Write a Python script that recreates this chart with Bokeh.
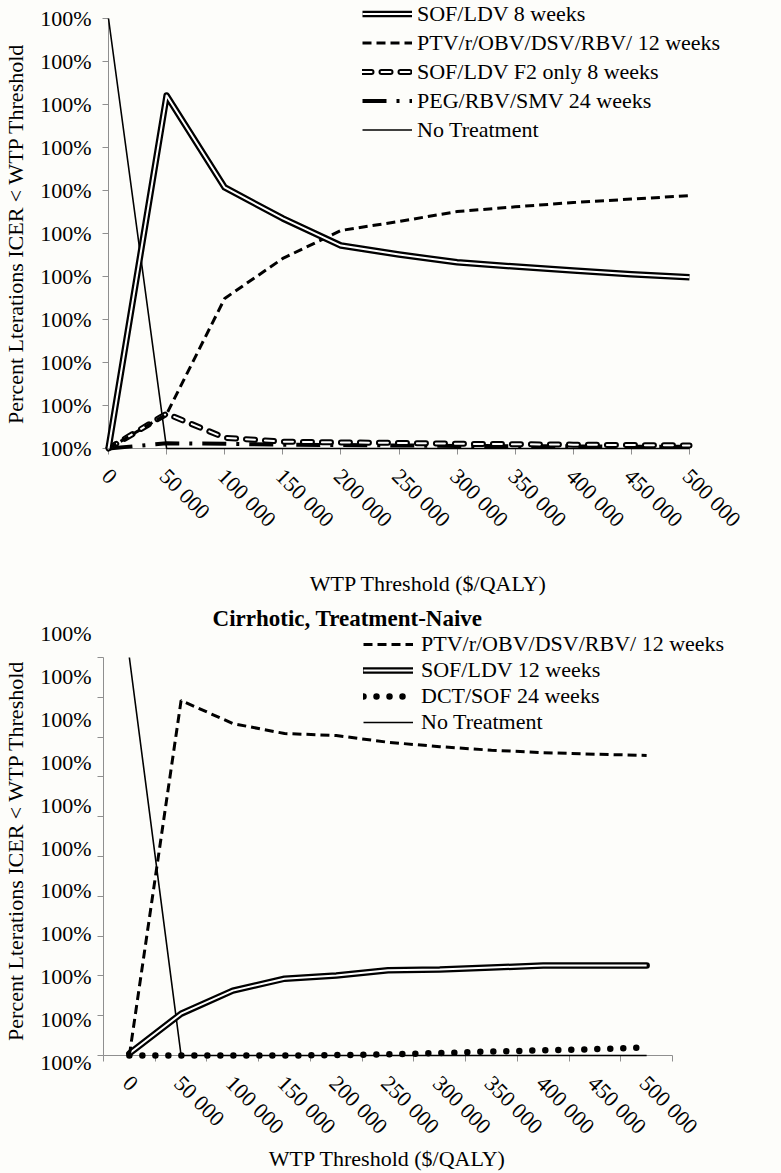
import math
from bokeh.plotting import figure
from bokeh.layouts import column
from bokeh.models import (Range1d, FixedTicker, Legend, LegendItem, Label,
                          CustomJSTickFormatter)
from bokeh.core.properties import value
from bokeh.embed import file_html
from bokeh.resources import INLINE

# ---------------- data ----------------
wtp = [0, 50000, 100000, 150000, 200000, 250000, 300000, 350000, 400000, 450000, 500000]
x_labels = ["0", "50 000", "100 000", "150 000", "200 000", "250 000",
            "300 000", "350 000", "400 000", "450 000", "500 000"]
y_ticks = [0.0, 0.1, 0.2, 0.3, 0.4, 0.5, 0.6, 0.7, 0.8, 0.9, 1.0]
y_labels = ["100%", "100%", "100%", "100%", "100%", "100%",
            "100%", "100%", "100%", "100%", "100%"]

# top panel
top_names = ["SOF/LDV 8 weeks", "PTV/r/OBV/DSV/RBV/ 12 weeks",
             "SOF/LDV F2 only 8 weeks", "PEG/RBV/SMV 24 weeks", "No Treatment"]
top_sof8 = [0.0, 0.821, 0.607, 0.535, 0.472, 0.451, 0.433, 0.423, 0.414, 0.405, 0.398]
top_ptv = [0.0, 0.08, 0.349, 0.442, 0.507, 0.528, 0.551, 0.562, 0.572, 0.580, 0.588]
top_f2 = [0.0, 0.081, 0.025, 0.016, 0.014, 0.013, 0.011, 0.010, 0.009, 0.008, 0.007]
top_peg = [0.0, 0.012, 0.011, 0.009, 0.008, 0.007, 0.006, 0.005, 0.005, 0.004, 0.004]
top_none = [1.0, 0.0, 0.0, 0.0, 0.0, 0.0, 0.0, 0.0, 0.0, 0.0, 0.0]

# bottom panel
bottom_title = "Cirrhotic, Treatment-Naive"
bot_names = ["PTV/r/OBV/DSV/RBV/ 12 weeks", "SOF/LDV 12 weeks",
             "DCT/SOF 24 weeks", "No Treatment"]
bot_ptv = [0.0, 0.892, 0.834, 0.809, 0.804, 0.787, 0.776, 0.767, 0.761, 0.757, 0.754]
bot_sof12 = [0.005, 0.105, 0.163, 0.193, 0.201, 0.214, 0.216, 0.221, 0.226, 0.226, 0.226]
bot_dct = [0.0, 0.0, 0.0, 0.0, 0.001, 0.003, 0.006, 0.010, 0.013, 0.016, 0.020]
bot_none = [1.0, 0.0, 0.0, 0.0, 0.0, 0.0, 0.0, 0.0, 0.0, 0.0, 0.0]

x_title = "WTP Threshold ($/QALY)"
y_title = "Percent Lterations ICER < WTP Threshold"

# ---------------- style ----------------
FONT = "Liberation Serif"
FS = "22px"
BG = "#fdfdfa"
AX = "#8f8f8f"
INK = "#000000"
W = 781
RB = 4            # right border
FW = W - RB       # frame width


def make_fig(fh, xr, yr):
    p = figure(frame_width=FW, frame_height=fh,
               min_border_left=0, min_border_bottom=0,
               min_border_top=2, min_border_right=RB,
               x_range=Range1d(*xr), y_range=Range1d(*yr),
               x_axis_location="above", y_axis_location="right",
               output_backend="svg", toolbar_location=None,
               background_fill_color=BG, border_fill_color=BG,
               outline_line_color=None)
    p.xgrid.visible = False
    p.ygrid.visible = False
    for ax in (p.xaxis[0], p.yaxis[0]):
        ax.level = "underlay"
        ax.axis_line_color = AX
        ax.major_tick_line_color = AX
        ax.minor_tick_line_color = None
        ax.major_tick_in = 6
        ax.major_tick_out = 0
        ax.major_label_standoff = 0
        ax.major_label_text_font_size = "0px"
        ax.formatter = CustomJSTickFormatter(code="return '';")
    return p


def txt(p, xs, ys, labels, **kw):
    p.text(x=xs, y=ys, text=labels, text_font=value(FONT),
           text_font_size=value(FS), text_color=INK, **kw)


def lab(p, x, y, text, size=FS, **kw):
    p.add_layout(Label(x=x, y=y, text=text, text_font=FONT, text_font_size=size,
                       text_color=INK, text_align="center",
                       text_baseline="middle", **kw))


# =============== TOP PANEL ===============
# page geometry of the data area: WTP 0 at x=108, 500 000 at x=689;
# value 0 at y=448, value 1 at y=18
T_X0, T_PXW, T_Y0, T_PPU = 108, 581, 448, 430
T_TOP, T_BOT = 2, 600


def tx(X):
    return (X - T_X0) * wtp[-1] / T_PXW


def ty(Y):
    return (T_Y0 - Y) / T_PPU


pt = make_fig(T_BOT - T_TOP, (tx(0), tx(FW)), (ty(T_BOT), ty(T_TOP)))
pt.xaxis.fixed_location = 0
pt.xaxis.bounds = (wtp[0], wtp[-1])
pt.xaxis.ticker = FixedTicker(ticks=wtp)
pt.yaxis.fixed_location = wtp[0]
pt.yaxis.bounds = (0, 1)
pt.yaxis.ticker = FixedTicker(ticks=y_ticks)

r_none = pt.line(wtp, top_none, line_color=INK, line_width=1.6)
r_peg = pt.line(wtp, top_peg, line_color=INK, line_width=4,
                line_dash="24 10 3 10")
r_f2a = pt.line(wtp, top_f2, line_color=INK, line_width=6, line_dash="9 10",
                line_cap="round", line_join="round")
r_f2b = pt.line(wtp, top_f2, line_color="white", line_width=2, line_dash="9 10",
                line_cap="round", line_join="round")
r_ptv = pt.line(wtp, top_ptv, line_color=INK, line_width=3, line_dash="9 5")
r_s8a = pt.line(wtp, top_sof8, line_color=INK, line_width=6.5, line_join="round")
r_s8b = pt.line(wtp, top_sof8, line_color="white", line_width=2, line_join="round")

leg_t = Legend(items=[
    LegendItem(label=top_names[0], renderers=[r_s8a, r_s8b]),
    LegendItem(label=top_names[1], renderers=[r_ptv]),
    LegendItem(label=top_names[2], renderers=[r_f2a, r_f2b]),
    LegendItem(label=top_names[3], renderers=[r_peg]),
    LegendItem(label=top_names[4], renderers=[r_none]),
], location=(362, 456), padding=0, margin=0, spacing=0,
    label_height=29, glyph_height=29, glyph_width=50, label_standoff=5,
    label_text_font=FONT, label_text_font_size=FS, label_text_color=INK,
    background_fill_alpha=0, border_line_alpha=0)
pt.add_layout(leg_t, "center")

txt(pt, [wtp[0]] * len(y_ticks), y_ticks, y_labels, x_offset=-17,
    text_align="right", text_baseline="middle")
txt(pt, wtp, [ty(T_Y0 + 24)] * len(wtp), x_labels, angle=-math.pi / 4,
    x_offset=-3, text_align="left", text_baseline="middle")
lab(pt, tx(428), ty(583), x_title)
lab(pt, tx(15), ty(233), y_title, angle=math.pi / 2)

# =============== BOTTOM PANEL ===============
# categories centred between ticks: first edge x=103, last edge x=672;
# value 0 at y=1055, value 1 at y=657
B_E0, B_PXW, B_Y0, B_PPU = 103, 569, 1055, 398
B_TOP, B_BOT = 602, 1173
x_lo, x_hi = wtp[0] - 25000, wtp[-1] + 25000
edges = [x_lo + 50000 * k for k in range(12)]


def bx(X):
    return x_lo + (X - B_E0) * (x_hi - x_lo) / B_PXW


def by(Y):
    return (B_Y0 - Y) / B_PPU


pb = make_fig(B_BOT - B_TOP, (bx(0), bx(FW)), (by(B_BOT), by(B_TOP)))
pb.xaxis.fixed_location = 0
pb.xaxis.bounds = (x_lo, x_hi)
pb.xaxis.ticker = FixedTicker(ticks=edges)
pb.yaxis.fixed_location = x_lo
pb.yaxis.bounds = (0, 1)
pb.yaxis.ticker = FixedTicker(ticks=y_ticks)

rb_none = pb.line(wtp, bot_none, line_color=INK, line_width=1.6)
rb_dct = pb.line(wtp, bot_dct, line_color=INK, line_width=6.5, line_dash="0 13",
                 line_cap="round")
rb_sa = pb.line(wtp, bot_sof12, line_color=INK, line_width=6.5, line_join="round",
                line_cap="round")
rb_sb = pb.line(wtp, bot_sof12, line_color="white", line_width=2, line_join="round")
rb_ptv = pb.line(wtp, bot_ptv, line_color=INK, line_width=3, line_dash="9 5")

leg_b = Legend(items=[
    LegendItem(label=bot_names[0], renderers=[rb_ptv]),
    LegendItem(label=bot_names[1], renderers=[rb_sa, rb_sb]),
    LegendItem(label=bot_names[2], renderers=[rb_dct]),
    LegendItem(label=bot_names[3], renderers=[rb_none]),
], location=(363, 1173 - 735), padding=0, margin=0, spacing=0,
    label_height=26, glyph_height=26, glyph_width=50, label_standoff=8,
    label_text_font=FONT, label_text_font_size=FS, label_text_color=INK,
    background_fill_alpha=0, border_line_alpha=0)
pb.add_layout(leg_b, "center")

# left tick labels sit on their own 42.9 px pitch (offset from the ticks, as in the source)
b_label_y = [by(1062 - 42.9 * k) for k in range(len(y_labels))]
txt(pb, [x_lo] * len(y_labels), b_label_y, y_labels, x_offset=-12,
    text_align="right", text_baseline="middle")
txt(pb, wtp, [by(B_Y0 + 24)] * len(wtp), x_labels, angle=-math.pi / 4,
    x_offset=-3, text_align="left", text_baseline="middle")
lab(pb, bx(347), by(618), bottom_title, size="23px", text_font_style="bold")
lab(pb, bx(387), by(1158), x_title)
lab(pb, bx(15), by(850), y_title, angle=math.pi / 2)

layout = column(pt, pb, spacing=0, background=BG)
open("out.html", "w").write(file_html(layout, INLINE))
